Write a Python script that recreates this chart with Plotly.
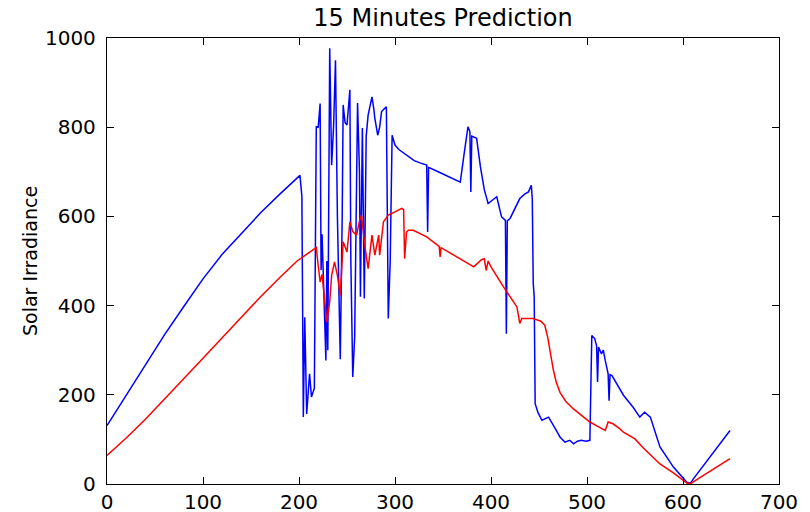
import plotly.graph_objects as go

actual_x = [0, 20, 40, 60, 80, 100, 120, 140, 160, 180, 190, 197, 201, 203, 204.5, 206, 208, 211, 213, 216,
            218, 220, 222, 223, 224, 226, 228, 229, 230, 232, 234, 236, 238, 240, 243, 245, 246, 248, 250, 253,
            254, 256, 258, 261, 263, 264, 266, 268, 270, 272, 274, 276, 278, 279, 282, 284, 286, 291, 293, 295,
            297, 300, 304, 307, 312, 320, 326, 333, 334, 335, 345, 355, 368, 372, 376, 378, 379, 380, 385, 389,
            393, 397, 401, 406, 411, 415, 416, 417, 420, 425, 430, 435, 439, 442, 443, 444, 445, 446, 449, 453,
            460, 468, 472, 477, 482, 486, 490, 494, 499, 503, 505, 508, 510, 511, 512, 515, 517, 519, 522, 523,
            524, 526, 532, 538, 548, 555, 560, 564, 566, 576, 590, 604, 608, 611, 628, 649]
actual_y = [131, 200, 268, 335, 398, 460, 515, 562, 608, 650, 670, 685, 692, 645, 150, 374, 157, 247, 195, 215,
            801, 800, 853, 480, 560, 420, 277, 500, 300, 977, 715, 800, 950, 600, 280, 600, 850, 810, 805, 884,
            500, 240, 330, 854, 700, 420, 798, 416, 780, 827, 850, 868, 840, 820, 782, 800, 835, 846, 371, 500,
            782, 760, 750, 745, 738, 725, 720, 715, 565, 710, 700, 690, 677, 740, 801, 790, 655, 780, 775, 711,
            660, 629, 635, 644, 599, 591, 337, 590, 596, 620, 640, 650, 655, 670, 640, 450, 420, 180, 160, 143,
            150, 120, 105, 94, 98, 90, 96, 98, 96, 98, 333, 326, 310, 229, 307, 292, 300, 277, 247, 187,
            245, 243, 220, 199, 172, 150, 161, 155, 150, 83, 38, 4, 2, 12, 60, 120]

# Predicted irradiance (red)
pred_x = [0, 20, 40, 60, 80, 100, 120, 140, 160, 180, 198, 210, 218, 220, 222, 224, 226, 229, 232, 234,
          237, 240, 243, 246, 250, 253, 256, 260, 263, 265, 269, 272, 276, 279, 283, 284, 288, 293, 300, 307,
          309, 310, 312, 314, 319, 333, 346, 347, 348, 364, 382, 390, 393, 395, 397, 400, 413, 427, 430, 432,
          444, 452, 456, 459, 462, 465, 468, 472, 478, 485, 493, 503, 514, 519, 522, 527, 534, 538, 550, 559,
          576, 590, 604, 608, 618, 649]
pred_y = [64, 103, 145, 190, 236, 282, 328, 374, 420, 463, 500, 518, 530, 490, 453, 470, 420, 363, 408, 468,
          498, 468, 423, 543, 520, 588, 566, 558, 590, 603, 528, 483, 558, 513, 558, 513, 588, 603, 610, 618,
          615, 505, 565, 569, 569, 554, 533, 509, 530, 509, 487, 503, 505, 479, 500, 487, 442, 397, 360, 371,
          371, 365, 356, 330, 290, 255, 228, 205, 185, 170, 156, 139, 126, 120, 139, 135, 124, 116, 101, 80,
          45, 25, 2, 1, 15, 57]

x_ticks = [0, 100, 200, 300, 400, 500, 600, 700]
y_ticks = [0, 200, 400, 600, 800, 1000]

FONT = "DejaVu Sans"

fig = go.Figure()
fig.add_trace(go.Scatter(x=actual_x, y=actual_y, mode="lines",
                         line=dict(color="#0000ff", width=1.5), showlegend=False))
fig.add_trace(go.Scatter(x=pred_x, y=pred_y, mode="lines",
                         line=dict(color="#ff0000", width=1.5), showlegend=False))

axis_common = dict(showgrid=False, zeroline=False, showline=True, linecolor="black", linewidth=1.3,
                   mirror="ticks", ticks="inside", ticklen=7, tickwidth=1, tickcolor="black",
                   automargin=False,
                   tickfont=dict(family=FONT, size=20, color="black"))

fig.update_xaxes(range=[0, 700], tickvals=x_ticks, ticktext=[str(v) for v in x_ticks], **axis_common)
fig.update_yaxes(range=[0, 1000], tickvals=y_ticks, ticktext=[str(v) for v in y_ticks],
                 ticklabelstandoff=6, **axis_common)

# page has an 8px body margin, so the figure is sized to fit the 810x512 window
fig.update_layout(
    width=802, height=504,
    margin=dict(l=99, r=31, t=30, b=28, autoexpand=False),
    paper_bgcolor="white", plot_bgcolor="white",
    title=dict(text="15 Minutes Prediction", x=0.5, xref="paper", xanchor="center",
               y=1 - 10 / 504, yref="container", yanchor="middle", automargin=False,
               font=dict(family=FONT, size=24, color="black")),
    annotations=[dict(text="Solar Irradiance", textangle=-90, xref="paper", yref="paper",
                      x=-77 / 672, y=0.5, xanchor="center", yanchor="middle", showarrow=False,
                      font=dict(family=FONT, size=19, color="black"))],
)

fig.write_html("out.html")
